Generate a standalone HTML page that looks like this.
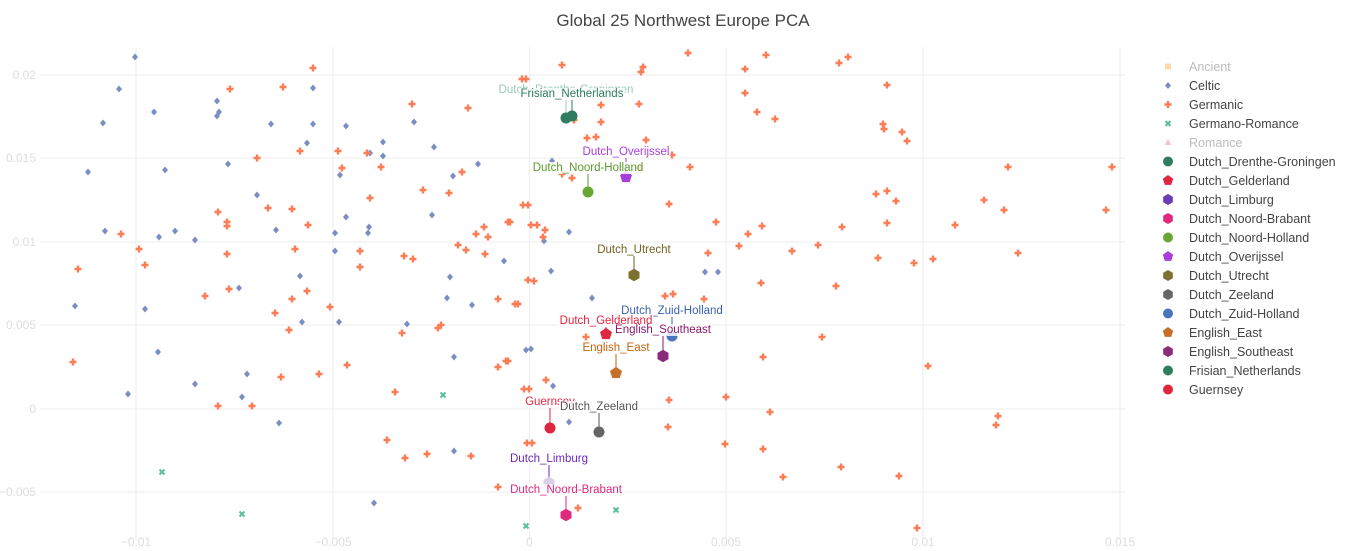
<!DOCTYPE html>
<html><head><meta charset="utf-8"><style>
body{margin:0;background:#fff;}
svg{display:block;font-family:"Liberation Sans",Arial,sans-serif;}
</style></head><body>
<svg id="s" width="1366" height="551" xmlns="http://www.w3.org/2000/svg">
<rect width="1366" height="551" fill="#fff"/>
<g stroke="#eee" stroke-width="1">
<line x1="136" y1="47" x2="136" y2="540"/><line x1="333" y1="47" x2="333" y2="540"/><line x1="529.5" y1="47" x2="529.5" y2="540"/><line x1="726" y1="47" x2="726" y2="540"/><line x1="923" y1="47" x2="923" y2="540"/><line x1="1120" y1="47" x2="1120" y2="540"/>
<line x1="40" y1="75" x2="1125" y2="75"/><line x1="40" y1="158" x2="1125" y2="158"/><line x1="40" y1="242" x2="1125" y2="242"/><line x1="40" y1="325" x2="1125" y2="325"/><line x1="40" y1="409" x2="1125" y2="409"/><line x1="40" y1="492" x2="1125" y2="492"/>
</g>
<g fill="#ddd" font-size="12" text-anchor="end">
<text x="36" y="79">0.02</text><text x="36" y="162">0.015</text><text x="36" y="246">0.01</text><text x="36" y="329">0.005</text><text x="36" y="413">0</text><text x="36" y="496">−0.005</text>
</g>
<g fill="#ddd" font-size="12" text-anchor="middle">
<text x="136" y="546">−0.01</text><text x="333" y="546">−0.005</text><text x="529.5" y="546">0</text><text x="726" y="546">0.005</text><text x="923" y="546">0.01</text><text x="1120" y="546">0.015</text>
</g>
<text x="683" y="26" text-anchor="middle" font-size="17" fill="#444">Global 25 Northwest Europe PCA</text>
<g id="pts"></g>
<g id="named"></g>
<g id="leg"></g>
</svg>
<script>
var NS="http://www.w3.org/2000/svg";
function el(p,t,a,txt){var e=document.createElementNS(NS,t);for(var k in a)e.setAttribute(k,a[k]);if(txt)e.textContent=txt;p.appendChild(e);return e;}
var P=document.getElementById('pts');
var blue=[[135,57],[119,89],[103,123],[154,112],[217,101],[219,112],[217,116],[271,124],[313,88],[313,124],[346,126],[307,143],[383,142],[370,153],[383,156],[434,147],[414,122],[88,172],[165,170],[228,164],[340,175],[478,164],[453,176],[257,195],[346,217],[432,215],[105,231],[159,237],[175,231],[195,240],[276,230],[335,233],[368,233],[369,227],[335,251],[504,261],[300,276],[239,288],[450,277],[447,298],[552,161],[569,232],[544,241],[551,271],[705,272],[592,298],[75,306],[145,309],[158,352],[128,394],[195,384],[247,374],[242,397],[279,423],[302,322],[339,322],[407,324],[472,305],[454,357],[531,349],[454,451],[374,503],[526,350],[553,386],[569,422],[718,272]];
var orng=[[313,68],[230,89],[283,87],[412,104],[468,108],[526,79],[257,158],[300,151],[338,151],[342,168],[367,153],[381,167],[370,198],[423,190],[449,193],[462,172],[218,212],[268,208],[292,209],[227,222],[227,226],[308,225],[528,205],[510,222],[484,227],[476,234],[488,237],[537,225],[121,234],[139,249],[145,265],[78,269],[227,254],[295,249],[360,251],[360,267],[404,256],[413,259],[458,245],[466,250],[485,254],[534,281],[229,289],[307,291],[205,296],[292,299],[498,299],
[562,65],[522,79],[643,67],[641,72],[688,53],[766,55],[839,63],[848,57],[745,69],[887,85],[745,93],[757,112],[775,119],[601,105],[639,104],[574,120],[601,122],[587,138],[596,137],[646,140],[672,155],[640,167],[640,169],[690,167],[562,174],[572,178],[883,124],[884,129],[902,132],[907,141],[1008,167],[876,194],[887,191],[896,201],[984,200],[1004,210],[887,223],[523,205],[669,204],[716,222],[762,226],[748,234],[842,227],[508,222],[531,225],[545,230],[543,237],[708,253],[739,246],[792,251],[818,245],[878,258],[914,263],[933,259],[528,280],[761,283],[836,286],[665,296],[673,294],[704,299],
[73,362],[275,313],[330,307],[289,330],[402,333],[438,328],[441,325],[518,304],[347,365],[319,374],[281,377],[498,367],[508,361],[395,392],[218,406],[252,406],[529,389],[387,440],[405,458],[427,454],[471,456],[532,443],[498,487],
[515,304],[586,337],[822,337],[763,357],[928,366],[506,361],[546,380],[524,389],[669,400],[726,397],[770,412],[998,416],[996,425],[668,427],[527,443],[725,444],[763,449],[841,467],[899,476],[783,477],[578,508],[917,528],[1112,167],[1106,210],[1018,253],[955,225]];
var grn=[[162,472],[443,395],[242,514],[526,526],[616,510]];
function diamond(x,y,c){el(P,'path',{d:'M'+x+' '+(y-3.5)+'L'+(x+3)+' '+y+'L'+x+' '+(y+3.5)+'L'+(x-3)+' '+y+'Z',fill:c});}
function cross(x,y,c){el(P,'path',{d:'M'+(x-1.2)+' '+(y-3.5)+'h2.4v2.3h2.3v2.4h-2.3v2.3h-2.4v-2.3h-2.3v-2.4h2.3z',fill:c});}
function xm(x,y,c){el(P,'path',{d:'M'+(x-2.5)+' '+(y-2.5)+'L'+(x+2.5)+' '+(y+2.5)+'M'+(x+2.5)+' '+(y-2.5)+'L'+(x-2.5)+' '+(y+2.5),stroke:c,'stroke-width':2});}
blue.forEach(function(p){diamond(p[0],p[1],'#7b8ec4');});
orng.forEach(function(p){cross(p[0],p[1],'#fc7d55');});
grn.forEach(function(p){xm(p[0],p[1],'#5bbf98');});
var N=document.getElementById('named');
function poly(g,x,y,r,n,c){if(n==0){el(g,'circle',{cx:x,cy:y,r:r,fill:c});return;}var d='';for(var i=0;i<n;i++){var a=-Math.PI/2+i*2*Math.PI/n;d+=(i?'L':'M')+(x+r*Math.cos(a)).toFixed(1)+' '+(y+r*Math.sin(a)).toFixed(1);}el(g,'path',{d:d+'Z',fill:c});}
var named=[
['Dutch_Drenthe-Groningen',566,118,89,'#2e7d5e',0,'#9ccab8'],
['Frisian_Netherlands',572,116,93,'#2e7d5e',0,'#2e7d5e'],
['Dutch_Overijssel',626,177,151,'#a63fd9',5,'#a63fd9'],
['Dutch_Noord-Holland',588,192,167,'#6aa535',0,'#5b9a2a'],
['Dutch_Utrecht',634,275,249,'#7d6f30',6,'#6f6220'],
['Dutch_Zuid-Holland',672,336,310,'#4a75bb',0,'#3a62ad'],
['Dutch_Gelderland',606,334,320,'#e0263f',5,'#e0263f'],
['English_Southeast',663,356,329,'#8a2a7d',6,'#8a1a6d'],
['English_East',616,373,347,'#c66f28',5,'#c0620f'],
['Guernsey',550,428,401,'#e0263f',0,'#e0263f'],
['Dutch_Zeeland',599,432,406,'#666',0,'#555'],
['Dutch_Limburg',549,483,458,'#d8cfe8',6,'#6a2ab8'],
['Dutch_Noord-Brabant',566,515,489,'#e0287f',6,'#e0287f']];
named.forEach(function(n){
 el(N,'line',{x1:n[1],y1:n[3]+7,x2:n[1],y2:n[2]-5,stroke:n[6],'stroke-width':1});
});
named.forEach(function(n){poly(N,n[1],n[2],n[5]==0?5.5:6.3,n[5],n[4]);});
named.forEach(function(n){
 var t=el(N,'text',{x:n[1],y:n[3]+4,'text-anchor':'middle','font-size':11.5,fill:n[6]},n[0]);
 var b=t.getBBox();var r=el(N,'rect',{x:b.x-1,y:b.y,width:b.width+2,height:b.height,fill:'rgba(255,255,255,0.8)'});N.insertBefore(r,t);
});
var L=document.getElementById('leg');
var leg=[['Ancient','sq','#fdd8a8',1],['Celtic','di','#7b8ec4'],['Germanic','cr','#fc7d55'],['Germano-Romance','x','#5bbf98'],['Romance','tri','#f2c2dc',1],
['Dutch_Drenthe-Groningen',0,'#2e7d5e'],['Dutch_Gelderland',5,'#e0263f'],['Dutch_Limburg',6,'#6d3ab8'],['Dutch_Noord-Brabant',6,'#e0287f'],['Dutch_Noord-Holland',0,'#6aa535'],['Dutch_Overijssel',5,'#a63fd9'],['Dutch_Utrecht',6,'#7d6f30'],['Dutch_Zeeland',6,'#666'],['Dutch_Zuid-Holland',0,'#4a75bb'],['English_East',5,'#c66f28'],['English_Southeast',6,'#8a2a7d'],['Frisian_Netherlands',0,'#2e7d5e'],['Guernsey',0,'#e0263f']];
leg.forEach(function(l,i){var y=66.5+i*19,x=1168;
 if(l[1]=='sq')el(L,'rect',{x:x-3,y:y-3,width:6,height:6,fill:l[2]});
 else if(l[1]=='di'){el(L,'path',{d:'M'+x+' '+(y-3.5)+'L'+(x+3)+' '+y+'L'+x+' '+(y+3.5)+'L'+(x-3)+' '+y+'Z',fill:l[2]});}
 else if(l[1]=='cr'){el(L,'path',{d:'M'+(x-1.2)+' '+(y-3.5)+'h2.4v2.3h2.3v2.4h-2.3v2.3h-2.4v-2.3h-2.3v-2.4h2.3z',fill:l[2]});}
 else if(l[1]=='x'){el(L,'path',{d:'M'+(x-2.5)+' '+(y-2.5)+'L'+(x+2.5)+' '+(y+2.5)+'M'+(x+2.5)+' '+(y-2.5)+'L'+(x-2.5)+' '+(y+2.5),stroke:l[2],'stroke-width':2});}
 else if(l[1]=='tri')el(L,'path',{d:'M'+x+' '+(y-3.5)+'L'+(x+3.5)+' '+(y+2.5)+'L'+(x-3.5)+' '+(y+2.5)+'Z',fill:l[2]});
 else poly(L,x,y,l[1]==0?5:5.5,l[1],l[2]);
 el(L,'text',{x:1189,y:y+4.5,'font-size':12.5,fill:l[3]?'#bbb':'#444'},l[0]);
});
</script>
</body></html>
